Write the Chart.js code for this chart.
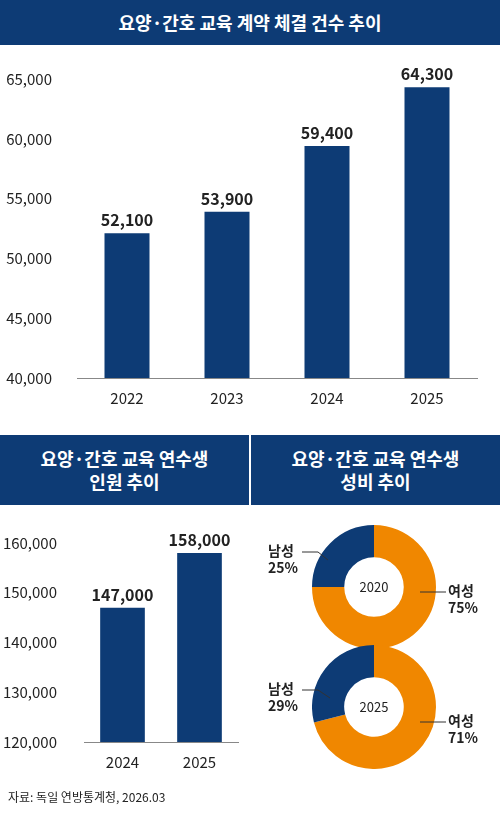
<!DOCTYPE html>
<html><head><meta charset="utf-8">
<script src="https://cdn.jsdelivr.net/npm/chart.js@4"></script>
<style>
body{margin:0;width:500px;height:814px;position:relative;background:#fff;font-family:"Noto Sans CJK KR",sans-serif;overflow:hidden}
.hdr{position:absolute;background:#0d3b75;color:#fff;font-weight:bold;text-align:center;display:flex;align-items:center;justify-content:center;line-height:1.3}
.abs{position:absolute}
.lbl{position:absolute;font-size:14px;font-weight:bold;color:#222;line-height:1.2}
</style></head><body>
<div class="hdr" style="left:0;top:0;width:500px;height:45px;font-size:18px">요양·간호 교육 계약 체결 건수 추이</div>
<div class="hdr" style="left:0;top:435px;width:249px;height:70px;font-size:18px">요양·간호 교육 연수생<br>인원 추이</div>
<div class="hdr" style="left:251px;top:435px;width:249px;height:70px;font-size:18px">요양·간호 교육 연수생<br>성비 추이</div>
<div class="abs" style="left:0;top:52px;width:500px;height:358px"><canvas id="c1"></canvas></div>
<div class="abs" style="left:0;top:515px;width:250px;height:259px"><canvas id="c2"></canvas></div>
<div class="abs" style="left:312px;top:525px;width:124px;height:124px"><canvas id="d1"></canvas></div>
<div class="abs" style="left:312px;top:645px;width:124px;height:124px"><canvas id="d2"></canvas></div>
<svg class="abs" style="left:0;top:0" width="500" height="814">
<polyline points="302,552 318,552 328,560" fill="none" stroke="#333" stroke-width="1"/>
<polyline points="420,592 432,592 446,592" fill="none" stroke="#333" stroke-width="1"/>
<polyline points="302,690 318,690 330,698" fill="none" stroke="#333" stroke-width="1"/>
<polyline points="420,722 432,722 446,722" fill="none" stroke="#333" stroke-width="1"/>
</svg>
<div class="lbl" style="left:268px;top:542px">남성<br>25%</div>
<div class="lbl" style="left:448px;top:582px">여성<br>75%</div>
<div class="lbl" style="left:268px;top:680px">남성<br>29%</div>
<div class="lbl" style="left:448px;top:712px">여성<br>71%</div>
<div class="abs" style="left:8px;top:788px;font-size:12px;color:#222">자료: 독일 연방통계청, 2026.03</div>
<script>
const years1=["2022","2023","2024","2025"];
const contracts=[52100,53900,59400,64300];
const years2=["2024","2025"];
const trainees=[147000,158000];
const sexLabels=["여성","남성"];
const sex2020=[75,25];
const sex2025=[71,29];
const NAVY="#0d3b75",ORANGE="#f08700",FONT='"Noto Sans CJK KR",sans-serif';
Chart.defaults.font.family=FONT;Chart.defaults.color="#222";Chart.defaults.animation=false;
const valPlugin={id:'v',afterDatasetsDraw(ch){const c=ch.ctx;const m=ch.getDatasetMeta(0);c.save();c.font='bold 16px '+FONT;c.fillStyle='#222';c.textAlign='center';c.textBaseline='bottom';
m.data.forEach((b,i)=>c.fillText(ch.data.datasets[0].data[i].toLocaleString('en-US'),b.x,b.y-5));c.restore();}};
function bar(id,labels,data,min,max,step,pct,pad,yw,tp){
new Chart(document.getElementById(id),{type:'bar',data:{labels,datasets:[{data,backgroundColor:NAVY,barPercentage:pct,categoryPercentage:1}]},
options:{responsive:true,maintainAspectRatio:false,layout:{padding:pad},plugins:{legend:{display:false},tooltip:{enabled:false}},
scales:{x:{grid:{display:false},border:{color:'#888'},ticks:{font:{size:15},color:'#222'}},
y:{min,max,afterFit:s=>{s.width=yw},ticks:{stepSize:step,font:{size:15},color:'#222',padding:tp,callback:v=>v.toLocaleString('en-US')},grid:{display:false},border:{display:false}}}},plugins:[valPlugin]});}
bar('c1',years1,contracts,40000,65000,5000,0.45,{left:0,right:23,top:27,bottom:0},77,17);
bar('c2',years2,trainees,120000,160000,10000,0.58,{left:0,right:12,top:26,bottom:0},84,19);
const centerText={id:'ct',afterDraw(ch){const c=ch.ctx;c.save();c.font='13px '+FONT;c.fillStyle='#222';c.textAlign='center';c.textBaseline='middle';c.fillText(ch.options.plugins.ct.t,ch.width/2,ch.height/2);c.restore();}};
function donut(id,data,t){new Chart(document.getElementById(id),{type:'doughnut',data:{labels:sexLabels,datasets:[{data,backgroundColor:[ORANGE,NAVY],borderWidth:0}]},
options:{responsive:true,maintainAspectRatio:false,cutout:'48%',plugins:{legend:{display:false},tooltip:{enabled:false},ct:{t}}},plugins:[centerText]});}
donut('d1',sex2020,'2020');donut('d2',sex2025,'2025');
</script></body></html>
